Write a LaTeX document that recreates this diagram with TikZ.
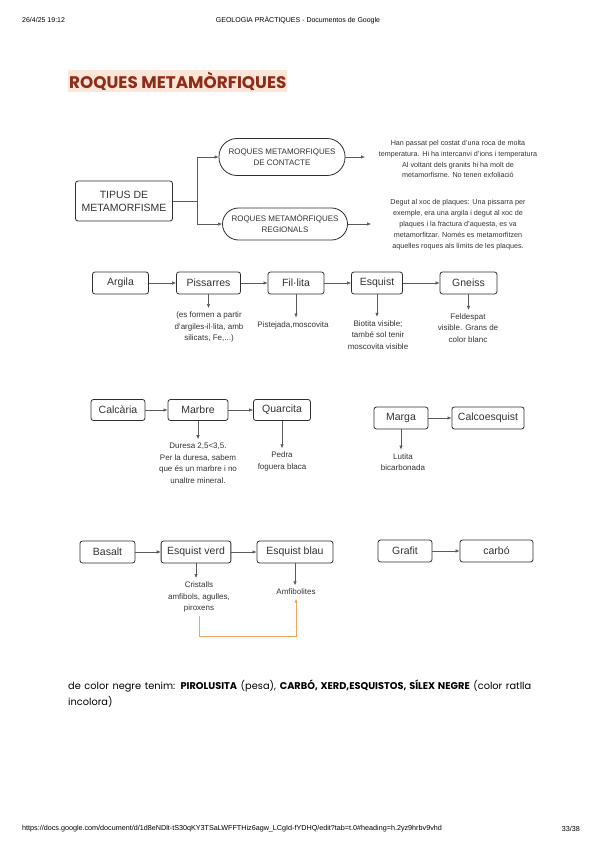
\documentclass[tikz,border=0pt]{standalone}
\usepackage{fontspec}
\setmainfont{Liberation Sans}
\newfontfamily\docfont{Poppins}
\usetikzlibrary{arrows.meta,positioning,calc}
\definecolor{LineDark}{HTML}{2E2E2E}
\definecolor{ArrowGrey}{HTML}{5A5A5A}
\definecolor{TextGrey}{HTML}{333333}
\definecolor{TitleRed}{HTML}{8E2C17}
\definecolor{TitleBack}{HTML}{FCE6D9}
\definecolor{LinkOrange}{HTML}{F0A45C}

\begin{document}
\begin{tikzpicture}[x=1pt,y=-1pt,
  rockbox/.style={draw=LineDark,line width=0.8pt,rounded corners=2.5pt,minimum height=22pt,
    inner xsep=6pt,font=\fontsize{10.5}{12}\selectfont,text=TextGrey},
  stadium/.style={draw=LineDark,line width=0.8pt,align=center,inner sep=2pt,
    font=\fontsize{8}{11}\selectfont,text=TextGrey},
  note/.style={align=center,inner sep=3.5pt,font=\fontsize{8}{11.5}\selectfont,text=TextGrey},
  desc/.style={align=center,inner sep=0pt,font=\fontsize{7.2}{10.9}\selectfont,text=TextGrey},
  flow/.style={-{Latex[length=4pt,width=3.5pt]},draw=ArrowGrey,line width=0.6pt},
  orangeflow/.style={-{Latex[length=4pt,width=3.5pt]},draw=LinkOrange,line width=0.8pt}]
  \useasboundingbox (0,0) rectangle (599,848);
  \fill[white] (0,0) rectangle (599,848);

  % page header and title
  \node[anchor=west,inner sep=0pt,font=\fontsize{7}{8}\selectfont] (stamp) at (22,20) {26/4/25 19:12};
  \node[inner sep=0pt,font=\fontsize{7}{8}\selectfont] (doctitle) at (298,20) {GEOLOGIA PRÀCTIQUES - Documentos de Google};
  \node[anchor=west,fill=TitleBack,inner xsep=1pt,inner ysep=0pt,minimum height=22pt,
    font=\docfont\bfseries\fontsize{16.8}{18}\selectfont,text=TitleRed] (pagetitle) at (68,81) {ROQUES METAMÒRFIQUES};

  % types of metamorphism
  \node[rockbox,minimum width=94pt,minimum height=40pt,align=center,font=\fontsize{10.5}{13}\selectfont] (tipus) at (124,201) {TIPUS DE\\METAMORFISME};
  \node[stadium,minimum width=126pt,minimum height=37pt,rounded corners=18pt] (contacte) at (282,157) {ROQUES METAMORFIQUES\\DE CONTACTE};
  \node[stadium,minimum width=125pt,minimum height=32pt,rounded corners=16pt] (regional) at (285,224) {ROQUES METAMÒRFIQUES\\REGIONALS};
  \coordinate (fork) at (197,201);
  \draw[flow] (tipus.east) -- (fork) |- (contacte.west);
  \draw[flow] (fork) |- (regional.west);

  \node[desc] (contactetext) at (458,159) {Han passat pel costat d'una roca de molta\\temperatura. Hi ha intercanvi d'ions i temperatura\\Al voltant dels granits hi ha molt de\\metamorfisme. No tenen exfoliació};
  \node[desc] (regionaltext) at (458,224.5) {Degut al xoc de plaques: Una pissarra per\\exemple, era una argila i degut al xoc de\\plaques i la fractura d'aquesta, es va\\metamorfitzar. Només es metamorfitzen\\aquelles roques als límits de les plaques.};
  \coordinate (contacteend) at (365,157);
  \coordinate (regionalend) at (371,224);
  \draw[flow] (contacte.east) -- (contacteend);
  \draw[flow] (regional.east) -- (regionalend);

  % argila series
  \node[rockbox,minimum width=56pt] (argila) at (120.5,283) {Argila};
  \node[rockbox,minimum width=64pt] (pissarres) at (208.5,283) {Pissarres};
  \node[rockbox,minimum width=56pt] (fillita) at (296,283) {Fil·lita};
  \node[rockbox,minimum width=51pt] (esquist) at (377,283) {Esquist};
  \node[rockbox,minimum width=57pt] (gneiss) at (468.5,283) {Gneiss};
  \draw[flow] (argila) -- (pissarres);
  \draw[flow] (pissarres) -- (fillita);
  \draw[flow] (fillita) -- (esquist);
  \draw[flow] (esquist) -- (gneiss);

  \node[note] (pissarresnote) at (209,327) {(es formen a partir\\d'argiles-il·lita, amb\\silicats, Fe,...)};
  \node[note] (fillitanote) at (293,325) {Pistejada,moscovita};
  \node[note] (esquistnote) at (378,335) {Biotita visible;\\també sol tenir\\moscovita visible};
  \node[note] (gneissnote) at (468,328) {Feldespat\\visible. Grans de\\color blanc};
  \draw[flow] (pissarres.south) -- (pissarres.south |- pissarresnote.north);
  \draw[flow] (fillita.south) -- (fillita.south |- fillitanote.north);
  \draw[flow] (esquist.south) -- (esquist.south |- esquistnote.north);
  \draw[flow] (gneiss.south) -- (gneiss.south |- gneissnote.north);

  % calcaria series
  \node[rockbox,minimum width=54pt,minimum height=21pt] (calcaria) at (118,410) {Calcària};
  \node[rockbox,minimum width=60pt,minimum height=21pt] (marbre) at (198,410) {Marbre};
  \node[rockbox,minimum width=57pt,minimum height=21pt] (quarcita) at (282,410) {Quarcita};
  \draw[flow] (calcaria) -- (marbre);
  \draw[flow] (marbre) -- (quarcita);
  \node[note] (marbrenote) at (198,463) {Duresa 2,5<3,5.\\Per la duresa, sabem\\que és un marbre i no\\unaltre mineral.};
  \node[note] (quarcitanote) at (282,461.5) {Pedra\\foguera blaca};
  \draw[flow] (marbre.south) -- (marbre.south |- marbrenote.north);
  \draw[flow] (quarcita.south) -- (quarcita.south |- quarcitanote.north);

  \node[rockbox,minimum width=54pt] (marga) at (401,418) {Marga};
  \node[rockbox,minimum width=71pt] (calcoesquist) at (488,418) {Calcoesquist};
  \draw[flow] (marga) -- (calcoesquist);
  \node[note] (marganote) at (403,462) {Lutita\\bicarbonada};
  \draw[flow] (marga.south) -- (marga.south |- marganote.north);

  % basalt series
  \node[rockbox,minimum width=55pt] (basalt) at (107.5,552) {Basalt};
  \node[rockbox,minimum width=68pt] (esquistverd) at (196,552) {Esquist verd};
  \node[rockbox,minimum width=76pt] (esquistblau) at (295,552) {Esquist blau};
  \draw[flow] (basalt) -- (esquistverd);
  \draw[flow] (esquistverd) -- (esquistblau);
  \node[note] (verdnote) at (199,597) {Cristalls\\amfibols, agulles,\\piroxens};
  \node[note] (blaunote) at (296,592) {Amfibolites};
  \draw[flow] (esquistverd.south) -- (esquistverd.south |- verdnote.north);
  \draw[flow] (esquistblau.south) -- (esquistblau.south |- blaunote.north);
  \draw[orangeflow] (verdnote.south) -- (verdnote.south |- 0,636) -| (blaunote.south);

  \node[rockbox,minimum width=54pt] (grafit) at (405,551) {Grafit};
  \node[rockbox,minimum width=73pt] (carbo) at (496.5,551) {carbó};
  \draw[flow] (grafit) -- (carbo);

  % text under the diagram
  \node[anchor=west,inner sep=0pt,font=\docfont\fontsize{9.8}{10}\selectfont] (bodyline) at (68,686)
    {\makebox[463pt][s]{de color negre tenim: \textbf{PIROLUSITA} (pesa), \textbf{CARBÓ, XERD,ESQUISTOS, SÍLEX NEGRE} (color ratlla}};
  \node[anchor=west,inner sep=0pt,font=\docfont\fontsize{9.8}{10}\selectfont] (bodyend) at (68,702) {incolora)};

  % page footer
  \node[anchor=west,inner sep=0pt,font=\fontsize{7.2}{8}\selectfont] (url) at (22,829) {https://docs.google.com/document/d/1d8eNDlt-tS30qKY3TSaLWFFTHiz6agw\_LCgId-fYDHQ/edit?tab=t.0\#heading=h.2yz9hrbv9vhd};
  \node[anchor=east,inner sep=0pt,font=\fontsize{7.2}{8}\selectfont] (pagenum) at (580,829) {33/38};
\end{tikzpicture}
\end{document}
